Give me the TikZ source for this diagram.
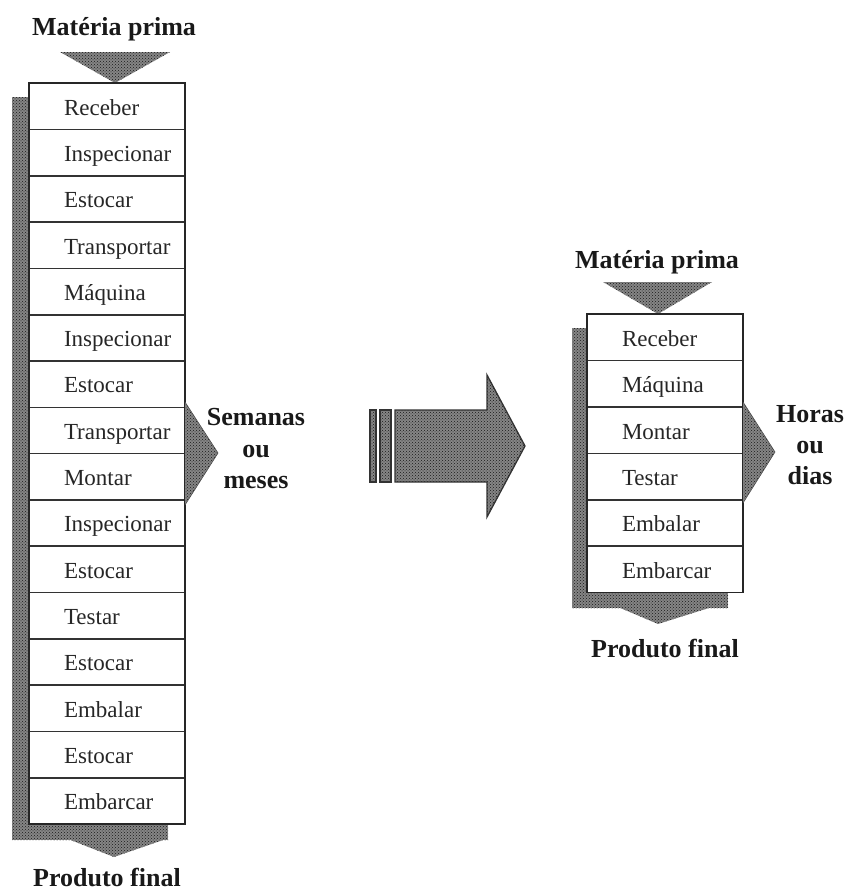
\documentclass[tikz,border=0pt]{standalone}
\usepackage{fontspec}
\setmainfont{Liberation Serif}
\usetikzlibrary{patterns}
\begin{document}
\begin{tikzpicture}[x=1pt,y=-1pt,
  halftone/.style={preaction={fill=black!48}, pattern=crosshatch dots, pattern color=black!90},
  rowbox/.style={rectangle, fill=white,
    minimum width=156pt, minimum height=46.3pt, inner xsep=35pt, inner ysep=0pt,
    text width=86pt, align=left, text height=20pt, text depth=2pt,
    font=\fontsize{23}{25}\selectfont, text=black!85},
  frame/.style={draw=black!85, line width=1.8pt},
  rule/.style={draw=black!80, line width=1.6pt},
  title/.style={font=\fontsize{26}{31}\selectfont\bfseries, anchor=base, inner sep=0pt, text=black!90}]
\useasboundingbox (0,0) rectangle (848,894);

% ---------- long process (left) ----------
\fill[halftone] (12,97) rectangle (168,840);
\fill[halftone] (60,52) -- (170,52) -- (115,83) -- cycle;
\fill[halftone] (68,839) -- (166,839) -- (114,857) -- cycle;
\foreach \t [count=\i] in {Receber,Inspecionar,Estocar,Transportar,Máquina,Inspecionar,Estocar,Transportar,Montar,Inspecionar,Estocar,Testar,Estocar,Embalar,Estocar,Embarcar}
  \node[rowbox] (L\i) at (107,{83+46.3*(\i-0.5)}) {\rlap{\t}};
\foreach \i in {1,...,15}
  \draw[rule] (L\i.south west) -- (L\i.south east);
\draw[frame] (L1.north west) rectangle (L16.south east);
\fill[halftone, draw=black!70, line width=0.6pt] (185,402) -- (218,453) -- (185,505);

\node[title] (inL) at (114,35) {Matéria prima};
\node[title] (outL) at (107,886) {Produto final};
\node[title] (tL1) at (256,425) {Semanas};
\node[title] (tL2) at (256,457) {ou};
\node[title] (tL3) at (256,488) {meses};

% ---------- improvement arrow ----------
\fill[halftone, draw=black!80, line width=1.3pt]
  (395,410) -- (487,410) -- (487,375) -- (525,446) -- (487,517) -- (487,482) -- (395,482) -- cycle;
\fill[halftone, draw=black!80, line width=1.1pt] (370,410) rectangle (376,482);
\fill[halftone, draw=black!80, line width=1.1pt] (380,410) rectangle (391,482);

% ---------- short process (right) ----------
\fill[halftone] (572,328) rectangle (728,608);
\fill[halftone] (603,282) -- (712,282) -- (658,314) -- cycle;
\fill[halftone] (618,607) -- (712,607) -- (658,624) -- cycle;
\foreach \t [count=\i] in {Receber,Máquina,Montar,Testar,Embalar,Embarcar}
  \node[rowbox] (R\i) at (665,{314+46.4*(\i-0.5)}) {\rlap{\t}};
\foreach \i in {1,...,5}
  \draw[rule] (R\i.south west) -- (R\i.south east);
\draw[frame] (R1.north west) rectangle (R6.south east);
\fill[halftone, draw=black!70, line width=0.6pt] (743,402) -- (775,452) -- (743,503);

\node[title] (inR) at (657,268) {Matéria prima};
\node[title] (outR) at (665,657) {Produto final};
\node[title] (tR1) at (810,422) {Horas};
\node[title] (tR2) at (810,453) {ou};
\node[title] (tR3) at (810,484) {dias};
\end{tikzpicture}
\end{document}
